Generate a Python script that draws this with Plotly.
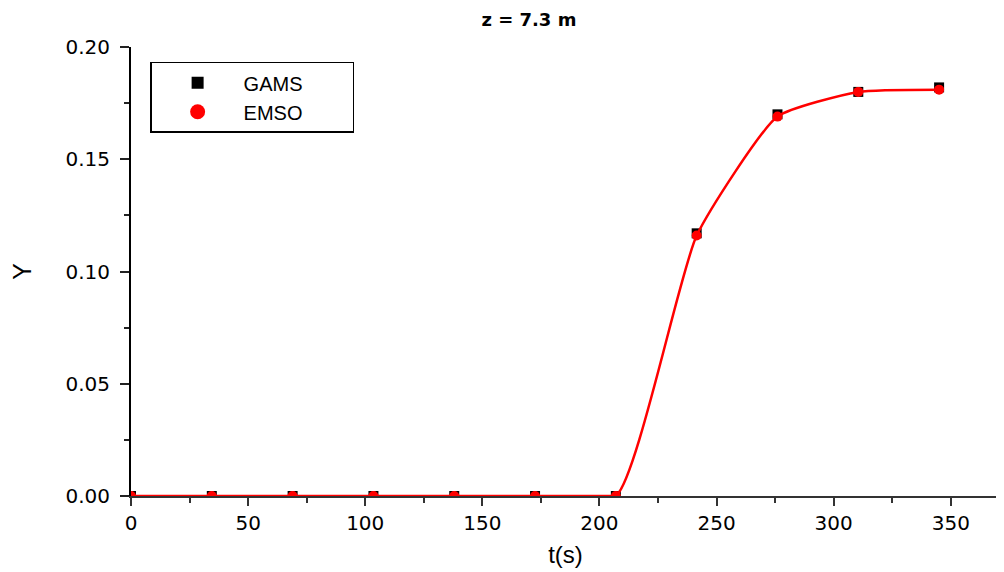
import plotly.graph_objects as go

t_values = [0, 34.5, 69, 103.5, 138, 172.5, 207, 241.5, 276, 310.5, 345]
gams_values = [0, 0, 0, 0, 0, 0, 0, 0.117, 0.170, 0.180, 0.182]
emso_values = [0, 0, 0, 0, 0, 0, 0, 0.116, 0.169, 0.180, 0.181]

x_ticks = [0, 50, 100, 150, 200, 250, 300, 350]
y_ticks = [0.00, 0.05, 0.10, 0.15, 0.20]

rise_index = 6  # last point on the zero baseline

fig = go.Figure()
fig.add_trace(go.Scatter(
    x=t_values, y=gams_values, mode="markers", name="GAMS", showlegend=False,
    marker=dict(symbol="square", size=10, color="black"),
))
# EMSO curve: flat part drawn straight, rising part smoothed
fig.add_trace(go.Scatter(
    x=t_values[:rise_index + 1], y=emso_values[:rise_index + 1], mode="lines", showlegend=False,
    line=dict(color="red", width=2.5), hoverinfo="skip",
))
fig.add_trace(go.Scatter(
    x=t_values[rise_index - 1:], y=emso_values[rise_index - 1:], mode="lines", showlegend=False,
    line=dict(color="red", width=2.5, shape="spline", smoothing=0.5), hoverinfo="skip",
))
fig.add_trace(go.Scatter(
    x=t_values, y=emso_values, mode="markers", name="EMSO", showlegend=False,
    marker=dict(symbol="circle", size=10, color="red"),
))
# legend entries (larger symbols, like the reference legend)
pad = "\u00a0" * 8
fig.add_trace(go.Scatter(
    x=[None], y=[None], mode="markers", name="GAMS" + pad,
    marker=dict(symbol="square", size=12, color="black"),
))
fig.add_trace(go.Scatter(
    x=[None], y=[None], mode="markers", name="EMSO" + pad,
    marker=dict(symbol="circle", size=15, color="red"),
))

axis_font = dict(family="DejaVu Sans", size=20, color="black")

# the page body adds an 8px offset, so the figure is sized to fit the 1004x572 window
fig.update_layout(
    width=996, height=564,
    paper_bgcolor="white", plot_bgcolor="white",
    margin=dict(l=123, r=4, t=39, b=76),
    title=dict(text="<b>z = 7.3 m</b>", x=0.523, xanchor="center",
               y=1 - 12 / 564, yanchor="middle", yref="container",
               font=dict(family="DejaVu Sans", size=18, color="black")),
    legend=dict(x=0.022, y=0.967, xanchor="left", yanchor="top",
                bordercolor="black", borderwidth=1.5, bgcolor="white",
                font=dict(family="Liberation Sans", size=20, color="black"),
                itemwidth=82, tracegroupgap=0),
    xaxis=dict(
        range=[0, 371], tickvals=x_ticks, ticktext=[str(v) for v in x_ticks],
        showgrid=False, zeroline=False, showline=True, linecolor="#333333", linewidth=2,
        ticks="outside", ticklen=8, tickwidth=2, tickcolor="#333333",
        minor=dict(ticks="outside", ticklen=5, tickwidth=2, tickcolor="#333333", dtick=25, showgrid=False),
        tickfont=axis_font, layer="below traces", automargin=False,
        title=dict(text="t(s)", font=dict(family="Liberation Sans", size=24, color="black"), standoff=12),
    ),
    yaxis=dict(
        range=[0, 0.2], tickvals=y_ticks, ticktext=[f"{v:.2f}" for v in y_ticks],
        showgrid=False, zeroline=False, showline=True, linecolor="black", linewidth=2,
        ticks="outside", ticklen=9, tickwidth=2, tickcolor="#222222",
        minor=dict(ticks="outside", ticklen=5, tickwidth=2, tickcolor="#222222", dtick=0.025, showgrid=False),
        tickfont=axis_font, layer="below traces", automargin=False, ticklabelstandoff=6,
        title=dict(text="Y", font=dict(family="Liberation Sans", size=25, color="black"), standoff=34),
    ),
)

fig.write_html("out.html")
